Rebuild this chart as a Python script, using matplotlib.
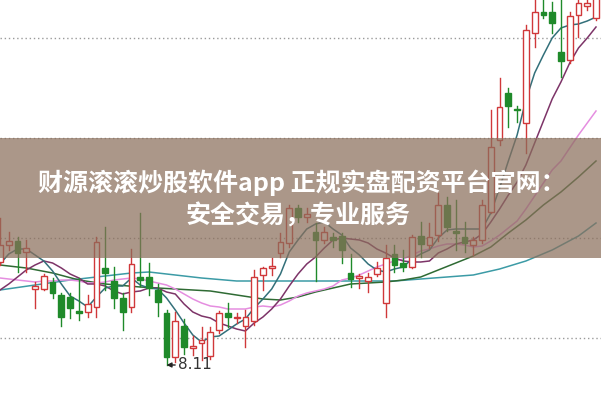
import matplotlib.pyplot as plt

# daily candles, left to right (price)
opens = [9.14, 9.31, 9.35, 9.24, 8.87, 8.87, 8.94, 8.81, 8.79, 8.65,
         8.64, 8.69, 9.08, 8.95, 8.78, 8.69, 8.99, 8.99, 8.86, 8.63,
         8.19, 8.50, 8.28, 8.33, 8.20, 8.46, 8.63, 8.58, 8.50, 8.55,
         9.01, 9.08, 9.23, 9.33, 9.68, 9.59, 9.44, 9.36, 9.39, 9.40,
         9.03, 8.98, 8.95, 9.02, 8.73, 9.22, 9.13, 9.09, 9.40, 9.31,
         9.41, 9.71, 9.45, 9.39, 9.31, 9.36, 9.64, 10.36, 10.83, 10.67,
         10.53, 11.43, 11.64, 11.64, 11.24, 11.16, 11.61, 11.70, 11.58]
highs = [9.58, 9.44, 9.39, 9.36, 8.94, 9.02, 8.98, 8.83, 8.83, 8.98,
         8.81, 9.39, 9.49, 9.09, 8.83, 9.27, 9.63, 9.13, 8.92, 8.66,
         8.64, 8.57, 8.40, 8.49, 8.49, 8.65, 8.73, 8.63, 8.66, 9.06,
         9.09, 9.18, 9.43, 9.71, 9.71, 9.68, 9.53, 9.49, 9.43, 9.43,
         9.22, 9.02, 9.03, 9.14, 9.31, 9.31, 9.26, 9.41, 9.54, 9.53,
         9.83, 9.79, 9.76, 9.54, 9.39, 9.76, 10.66, 10.98, 10.88, 10.70,
         11.51, 11.80, 11.80, 11.74, 11.80, 11.64, 11.80, 11.80, 11.85]
lows = [9.11, 9.26, 9.04, 9.04, 8.68, 8.86, 8.78, 8.50, 8.58, 8.56,
        8.59, 8.59, 8.86, 8.68, 8.46, 8.64, 8.90, 8.81, 8.60, 8.11,
        8.14, 8.22, 8.21, 8.16, 8.17, 8.43, 8.49, 8.53, 8.29, 8.51,
        8.86, 9.01, 9.19, 9.29, 9.54, 9.54, 8.95, 9.33, 9.29, 9.13,
        8.89, 8.88, 8.84, 9.00, 8.59, 9.04, 9.05, 9.08, 9.19, 9.28,
        9.35, 9.45, 9.26, 9.24, 9.21, 9.33, 9.63, 10.31, 10.49, 10.54,
        10.23, 11.29, 11.58, 11.43, 10.99, 11.13, 11.39, 11.66, 11.56]
closes = [9.31, 9.35, 9.23, 9.28, 8.90, 9.00, 8.83, 8.59, 8.68, 8.63,
          8.72, 9.34, 9.03, 8.78, 8.64, 9.12, 8.96, 8.88, 8.74, 8.19,
          8.55, 8.29, 8.30, 8.36, 8.44, 8.63, 8.59, 8.59, 8.59, 8.99,
          9.08, 9.10, 9.34, 9.68, 9.59, 9.62, 9.36, 9.44, 9.36, 9.26,
          8.97, 9.00, 8.99, 9.08, 9.18, 9.11, 9.09, 9.39, 9.32, 9.39,
          9.71, 9.49, 9.43, 9.33, 9.36, 9.71, 10.29, 10.69, 10.70, 10.66,
          11.46, 11.64, 11.61, 11.53, 11.15, 11.60, 11.73, 11.73, 11.80]

ma5 = [9.12, 9.22, 9.27, 9.27, 9.21, 9.15, 9.05, 8.92, 8.80, 8.75,
       8.69, 8.79, 8.88, 8.90, 8.90, 8.98, 8.91, 8.88, 8.87, 8.78,
       8.66, 8.53, 8.41, 8.34, 8.39, 8.40, 8.46, 8.52, 8.57, 8.68,
       8.77, 8.87, 9.02, 9.24, 9.36, 9.47, 9.52, 9.54, 9.47, 9.41,
       9.28, 9.21, 9.12, 9.06, 9.04, 9.07, 9.09, 9.17, 9.22, 9.26,
       9.38, 9.46, 9.47, 9.47, 9.47, 9.47, 9.63, 9.88, 10.15, 10.41,
       10.76, 11.03, 11.21, 11.38, 11.48, 11.51, 11.52, 11.55, 11.59]
ma10 = [8.86, 8.92, 8.99, 9.06, 9.11, 9.15, 9.13, 9.08, 9.02, 8.98,
        8.92, 8.92, 8.90, 8.85, 8.82, 8.84, 8.85, 8.88, 8.88, 8.84,
        8.82, 8.72, 8.64, 8.60, 8.58, 8.53, 8.50, 8.47, 8.45, 8.53,
        8.59, 8.67, 8.77, 8.90, 9.02, 9.12, 9.19, 9.28, 9.36, 9.38,
        9.37, 9.36, 9.33, 9.27, 9.23, 9.18, 9.15, 9.14, 9.14, 9.15,
        9.23, 9.27, 9.32, 9.34, 9.36, 9.42, 9.54, 9.67, 9.81, 9.94,
        10.11, 10.33, 10.55, 10.77, 10.94, 11.13, 11.28, 11.38, 11.49]
ma20 = [8.98, 8.97, 8.96, 8.95, 8.94, 8.95, 8.95, 8.96, 8.96, 8.95,
        8.93, 8.93, 8.94, 8.96, 8.97, 8.98, 8.97, 8.95, 8.93, 8.91,
        8.87, 8.82, 8.77, 8.73, 8.70, 8.69, 8.67, 8.67, 8.67, 8.69,
        8.70, 8.69, 8.71, 8.75, 8.80, 8.83, 8.85, 8.87, 8.90, 8.96,
        8.98, 9.01, 9.05, 9.09, 9.12, 9.15, 9.17, 9.21, 9.25, 9.27,
        9.30, 9.32, 9.32, 9.31, 9.29, 9.30, 9.35, 9.41, 9.48, 9.55,
        9.67, 9.80, 9.93, 10.06, 10.15, 10.28, 10.41, 10.53, 10.65]
ma30_idx = [0, 3, 6, 9, 12, 16, 20, 24, 27, 30, 32, 34, 36, 38, 40,
            42, 44, 46, 48, 50, 52, 54, 56, 58, 60, 62, 64, 66, 68]
ma30 = [9.11, 9.08, 9.03, 8.96, 8.92, 8.89, 8.87, 8.85, 8.81, 8.77, 8.76,
        8.79, 8.84, 8.88, 8.92, 8.93, 8.94, 8.96, 8.99, 9.06, 9.13, 9.20,
        9.29, 9.43, 9.56, 9.71, 9.84, 9.99, 10.15]
ma60_idx = [0, 4, 8, 11, 15, 17, 20, 23, 27, 35, 45, 48, 51, 54, 57, 60, 63, 66, 68]
ma60 = [8.86, 8.91, 8.96, 8.99, 9.03, 9.04, 9.01, 8.98, 8.95, 8.95,
        8.95, 8.97, 8.99, 9.01, 9.07, 9.15, 9.26, 9.40, 9.53]

low_label = '8.11'
title_lines = ['财源滚滚炒股软件app 正规实盘配资平台官网：', '安全交易，专业服务']

red = '#d0383a'
green = '#1f8a2a'

fig = plt.figure(figsize=(6.01, 3.99), dpi=100)
ax = fig.add_axes([0, 0, 1, 1])
ax.set_axis_off()
ax.set_xlim(0, 68.57)
ax.set_ylim(7.77, 11.76)

for g in [11.38, 10.38, 9.38, 8.38]:
    ax.axhline(g, color='#9a9a9a', lw=1, ls=(0, (1, 2)), zorder=1)

w = 0.66
for i in range(len(opens)):
    o, h, l, c = opens[i], highs[i], lows[i], closes[i]
    top, bot = max(o, c), min(o, c)
    if c >= o:
        ax.plot([i, i], [top, h], color=red, lw=1, zorder=3)
        ax.plot([i, i], [l, bot], color=red, lw=1, zorder=3)
        ax.bar(i, max(top - bot, 0.008), w, bottom=bot, color='white',
               edgecolor=red, linewidth=1, zorder=4)
    else:
        ax.plot([i, i], [l, h], color=green, lw=1, zorder=3)
        ax.bar(i, max(top - bot, 0.008), w, bottom=bot, color=green,
               edgecolor=green, linewidth=1, zorder=4)

x = list(range(len(opens)))
ax.plot(ma60_idx, ma60, color='#3c9ba6', lw=1.1, zorder=2)
ax.plot(ma30_idx, ma30, color='#2f6b34', lw=1.1, zorder=2)
ax.plot(x, ma20, color='#e58ee0', lw=1.1, zorder=2)
ax.plot(x, ma10, color='#7d3468', lw=1.1, zorder=2)
ax.plot(x, ma5, color='#33707a', lw=1.1, zorder=2)

ax.annotate(low_label, xy=(19, 8.11), xytext=(20.3, 8.11),
            fontsize=11, color='#333333', va='center', ha='left',
            arrowprops=dict(arrowstyle='-|>', color='#222222', lw=1,
                            mutation_scale=7, shrinkA=0, shrinkB=0))

ax.axhspan(9.18, 10.38, color='#8b6f5c', alpha=0.72, lw=0, zorder=6)

fig.text(302 / 601, 1 - 183 / 399, title_lines[0], color='white', fontsize=18,
         fontweight='bold', family=['Noto Sans CJK SC', 'DejaVu Sans'],
         ha='center', va='center', zorder=7)
fig.text(298 / 601, 1 - 216 / 399, title_lines[1], color='white', fontsize=18,
         fontweight='bold', family=['Noto Sans CJK SC', 'DejaVu Sans'],
         ha='center', va='center', zorder=7)

plt.savefig('out.png', dpi=100)
